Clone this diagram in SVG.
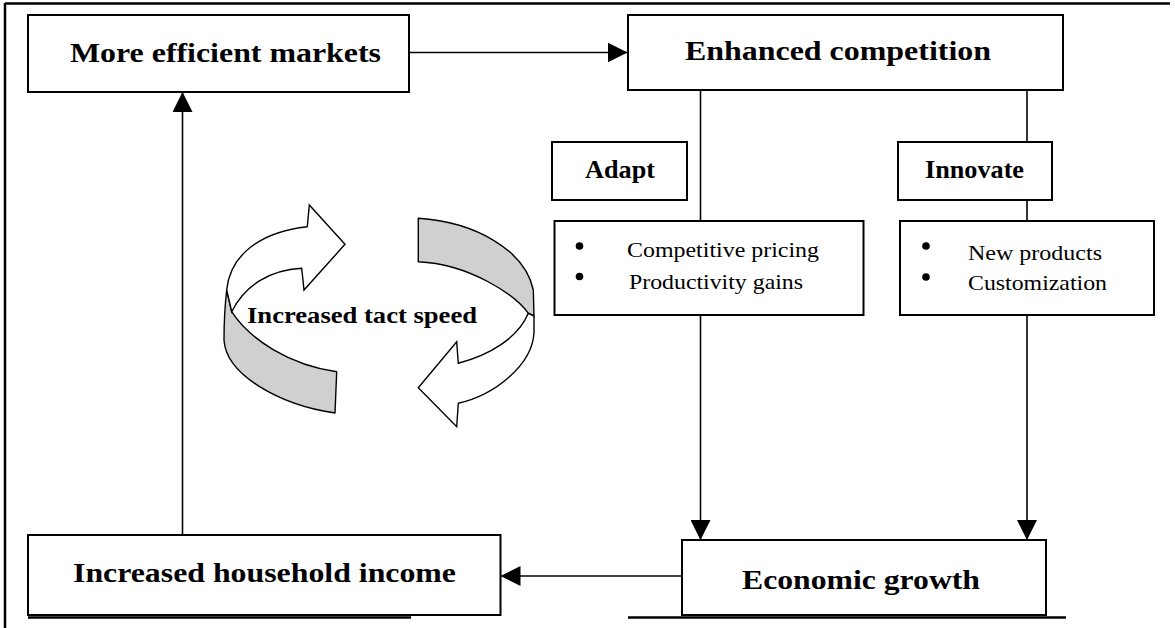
<svg xmlns="http://www.w3.org/2000/svg" width="1175" height="628" viewBox="0 0 1175 628">
<style>
  .box { fill: #ffffff; stroke: #000000; stroke-width: 2; }
  .conn { fill: none; stroke: #000000; stroke-width: 1.6; }
  .frame { fill: none; stroke: #000000; stroke-width: 2.5; }
  .big { font-family: "Liberation Serif", "Times New Roman", serif; font-weight: bold; font-size: 28px; fill: #000000; }
  .mid { font-family: "Liberation Serif", "Times New Roman", serif; font-weight: bold; font-size: 26px; fill: #000000; }
  .cyc { font-family: "Liberation Serif", "Times New Roman", serif; font-weight: bold; font-size: 24px; fill: #000000; }
  .item { font-family: "Liberation Serif", "Times New Roman", serif; font-size: 22px; fill: #000000; }
  .band { fill: #d0d0d0; stroke: #000000; stroke-width: 1.4; stroke-linejoin: round; }
  .face { fill: #ffffff; stroke: #000000; stroke-width: 1.4; stroke-linejoin: miter; }
</style>
<defs>
  <marker id="ah" markerUnits="userSpaceOnUse" markerWidth="20" markerHeight="20" refX="20" refY="10" orient="auto">
    <path d="M0,0 L20,10 L0,20 Z" fill="#000000"/>
  </marker>
</defs>
<rect width="1175" height="628" fill="#ffffff"/>

<g id="frame">
  <line class="frame" x1="5" y1="3.5" x2="1170" y2="3.5"/>
  <line class="frame" x1="5" y1="3" x2="5" y2="628"/>
  <line class="frame" x1="28" y1="617.5" x2="411" y2="617.5"/>
  <line class="frame" x1="628" y1="617.5" x2="1066" y2="617.5" stroke-width="2"/>
</g>

<g id="connectors">
  <line class="conn" x1="409" y1="52.5" x2="627.5" y2="52.5" marker-end="url(#ah)"/>
  <line class="conn" x1="700.5" y1="90" x2="700.5" y2="540" marker-end="url(#ah)"/>
  <line class="conn" x1="1027" y1="90" x2="1027" y2="540" marker-end="url(#ah)"/>
  <line class="conn" x1="682" y1="576" x2="500.5" y2="576" marker-end="url(#ah)"/>
  <line class="conn" x1="182.5" y1="535" x2="182.5" y2="92" marker-end="url(#ah)"/>
</g>

<g id="node-markets">
  <rect class="box" x="28" y="15" width="381" height="77"/>
  <text class="big" x="70" y="62" textLength="311" lengthAdjust="spacingAndGlyphs">More efficient markets</text>
</g>

<g id="node-competition">
  <rect class="box" x="628" y="15" width="435" height="75"/>
  <text class="big" x="685" y="60" textLength="306" lengthAdjust="spacingAndGlyphs">Enhanced competition</text>
</g>

<g id="node-adapt">
  <rect class="box" x="552" y="142" width="135" height="58"/>
  <text class="mid" x="585" y="178" textLength="70" lengthAdjust="spacingAndGlyphs">Adapt</text>
</g>

<g id="node-innovate">
  <rect class="box" x="898" y="142" width="154" height="58"/>
  <text class="mid" x="925" y="178" textLength="99" lengthAdjust="spacingAndGlyphs">Innovate</text>
</g>

<g id="node-adapt-items">
  <rect class="box" x="554.5" y="221" width="309" height="94"/>
  <circle cx="579.5" cy="246" r="3.8" fill="#000000"/>
  <circle cx="579.5" cy="276.5" r="3.8" fill="#000000"/>
  <text class="item" x="627" y="257" textLength="192" lengthAdjust="spacingAndGlyphs">Competitive pricing</text>
  <text class="item" x="629" y="289" textLength="174" lengthAdjust="spacingAndGlyphs">Productivity gains</text>
</g>

<g id="node-innovate-items">
  <rect class="box" x="900" y="221" width="254" height="94"/>
  <circle cx="926" cy="246" r="3.8" fill="#000000"/>
  <circle cx="926" cy="277" r="3.8" fill="#000000"/>
  <text class="item" x="968" y="260" textLength="134" lengthAdjust="spacingAndGlyphs">New products</text>
  <text class="item" x="968" y="290" textLength="139" lengthAdjust="spacingAndGlyphs">Customization</text>
</g>

<g id="node-growth">
  <rect class="box" x="682" y="540" width="364" height="75"/>
  <text class="big" x="742" y="589" textLength="238" lengthAdjust="spacingAndGlyphs">Economic growth</text>
</g>

<g id="node-income">
  <rect class="box" x="28" y="535" width="472.5" height="80"/>
  <text class="big" x="73" y="582" textLength="383" lengthAdjust="spacingAndGlyphs">Increased household income</text>
</g>

<g id="cycle">
  <path class="band" d="M226.7,290 C225,305 224,325 224,340 C226,375 280,405 335,413 L336.7,371.7 C290,365 250,340 231.7,311.7 Z"/>
  <path class="face" d="M226.7,290 C230,255 260,232 307.3,226.7 L309.3,205 L345,244.3 L304,290 L301.7,268.3 C270,270 245,285 231.7,311.7 Z"/>
  <path class="band" d="M418.3,218.3 C475,222 525,250 533.3,290 L534,316 L528.3,313.3 C515,295 470,264 418.3,261.7 Z"/>
  <path class="face" d="M534,316 L534,333 C532,365 495,395 458.3,403.3 L456.7,426.7 L418.3,387.7 L456.7,341.7 L458.3,363.3 C490,355 518,338 528.3,313.3 Z"/>
  <text class="cyc" x="247" y="323" textLength="230" lengthAdjust="spacingAndGlyphs">Increased tact speed</text>
</g>
</svg>
